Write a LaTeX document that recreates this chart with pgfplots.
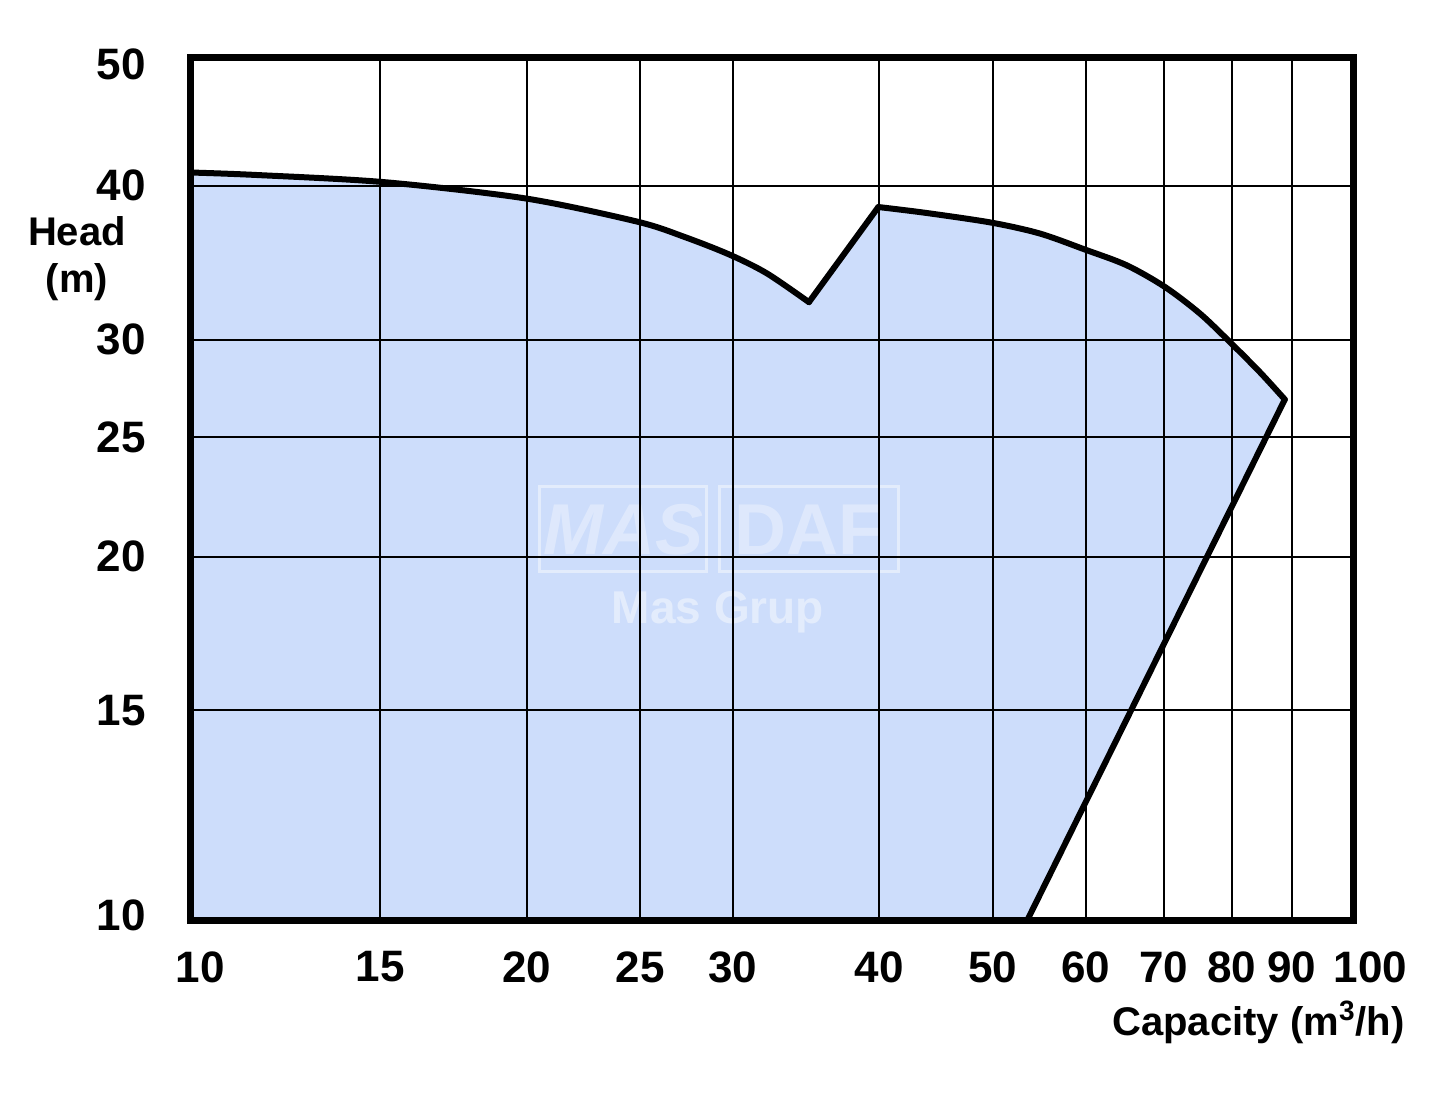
\documentclass[border=0pt]{standalone}
\usepackage{pgfplots}
\pgfplotsset{compat=1.18}
\usepackage{fontspec}
\setmainfont{Liberation Sans}
\definecolor{areablue}{RGB}{205,221,251}
\begin{document}
\begin{tikzpicture}
\begin{axis}[
  scale only axis,
  width=581.5pt, height=431.5pt,
  xmode=log, ymode=log,
  xmin=10.32, xmax=101.5, ymin=10.12, ymax=50.8,
  xtick={15,20,25,30,40,50,60,70,80,90},
  xticklabels={15,20,25,30,40,50,60,70,80,90},
  ytick={15,20,25,30,40},
  yticklabels={15,20,25,30,40},
  minor xtick={}, minor ytick={},
  major tick length=0pt,
  grid=major,
  major grid style={black, line width=1pt},
  axis line style={black, line width=3.5pt},
  axis on top,
  clip=false,
  /pgf/number format/assume math mode=true,
  xticklabel style={font=\fontsize{22}{26}\selectfont\bfseries, inner sep=0pt, anchor=north, yshift=-15pt},
  yticklabel style={font=\fontsize{22}{26}\selectfont\bfseries, inner sep=0pt, anchor=east, xshift=-22pt},
]
% filled region
\addplot[draw=none, fill=areablue] coordinates {
  (10.32,41.01) (11.75,40.82) (15.14,40.27) (19.98,39.07) (24.86,37.41)
  (27.31,36.34) (29.83,35.16) (32.08,33.96) (34.84,32.18)
  (39.93,38.45) (43.90,38.02) (49.89,37.34) (54.85,36.59) (59.93,35.51)
  (65.06,34.48) (70.13,33.11) (75.12,31.51) (79.67,29.88) (84.51,28.24)
  (88.77,26.83) (53.47,10.12) (10.32,10.12) (10.32,41.01)
};
% outline
\addplot[black, line width=3pt, smooth, line cap=round] coordinates {
  (10.32,41.01) (11.75,40.82) (15.14,40.27) (19.98,39.07) (24.86,37.41)
  (27.31,36.34) (29.83,35.16) (32.08,33.96) (34.84,32.18)
};
\addplot[black, line width=3pt, line cap=round, line join=round] coordinates {
  (34.84,32.18) (39.93,38.45)
};
\addplot[black, line width=3pt, smooth, line cap=round] coordinates {
  (39.93,38.45) (43.90,38.02) (49.89,37.34) (54.85,36.59) (59.93,35.51)
  (65.06,34.48) (70.13,33.11) (75.12,31.51) (79.67,29.88) (84.51,28.24)
  (88.77,26.83)
};
\addplot[black, line width=3pt, line cap=round] coordinates {
  (88.77,26.83) (53.47,10.12)
};
% watermark
\draw[white, opacity=0.45, line width=1.5pt] (rel axis cs:0.3009,0.4044) rectangle (rel axis cs:0.4445,0.5029);
\draw[white, opacity=0.45, line width=1.5pt] (rel axis cs:0.4557,0.4044) rectangle (rel axis cs:0.6088,0.5029);
\node[white, opacity=0.35, font=\fontsize{36}{40}\selectfont\bfseries\itshape] at (rel axis cs:0.3727,0.4536) {MAS};
\node[white, opacity=0.35, font=\fontsize{36}{40}\selectfont\bfseries] at (rel axis cs:0.5322,0.4536) {DAF};
\node[white, opacity=0.45, font=\fontsize{23}{27}\selectfont\bfseries] at (rel axis cs:0.454,0.358) {Mas Grup};
% boundary tick labels
\node[font=\fontsize{22}{26}\selectfont\bfseries, inner sep=0pt, anchor=north, yshift=-15pt] at (rel axis cs:0.0086,0) {10};
\node[font=\fontsize{22}{26}\selectfont\bfseries, inner sep=0pt, anchor=north, yshift=-15pt] at (rel axis cs:1.0152,0) {100};
\node[font=\fontsize{22}{26}\selectfont\bfseries, inner sep=0pt, anchor=east, xshift=-22pt] at (rel axis cs:0,0.007) {10};
\node[font=\fontsize{22}{26}\selectfont\bfseries, inner sep=0pt, anchor=east, xshift=-22pt] at (rel axis cs:0,0.993) {50};
% labels
\node[align=center, font=\fontsize{20}{23.5}\selectfont\bfseries] at (rel axis cs:-0.0972,0.768) {Head\\(m)};
\node[anchor=east, inner sep=0pt, font=\fontsize{20}{24}\selectfont\bfseries] at (rel axis cs:1.0447,-0.117) {Capacity (m\textsuperscript{3}/h)};
% bounding box
\path (rel axis cs:-0.16337,-0.22016) rectangle (rel axis cs:1.07481,1.06721);
\end{axis}
\end{tikzpicture}
\end{document}
